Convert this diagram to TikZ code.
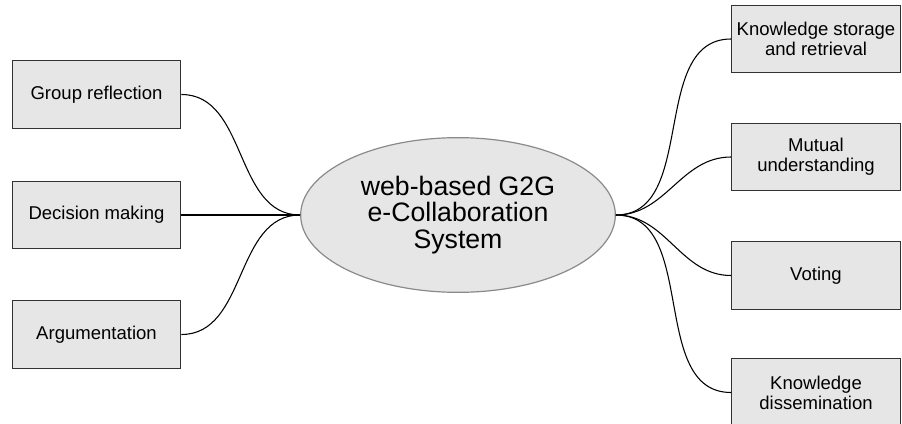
\documentclass[tikz,border=0pt]{standalone}
\usepackage{fontspec}
\setmainfont{Liberation Sans}
\usetikzlibrary{shapes.geometric}
\definecolor{boxfill}{HTML}{E6E6E6}
\definecolor{boxline}{HTML}{333333}
\definecolor{ellline}{HTML}{8A8A8A}
\tikzset{
  box/.style={draw=boxline, line width=0.9pt, fill=boxfill, rectangle,
    minimum width=126.5pt, minimum height=50.5pt, inner sep=0pt,
    align=center, font=\fontsize{13.9pt}{15pt}\selectfont},
  hub/.style={draw=ellline, line width=0.9pt, fill=boxfill, ellipse,
    minimum width=236pt, minimum height=116pt, inner sep=0pt,
    align=center, font=\fontsize{20pt}{20pt}\selectfont},
  link/.style={draw=black, line width=0.8pt, out=0, in=180}
}
\begin{document}
\begin{tikzpicture}[x=0.75pt,y=-0.75pt]
\useasboundingbox (0,0) rectangle (902,424);
\node[hub] (c) at (458,215) {web-based G2G\\e-Collaboration\\System};
\node[box] (gr) at (96.5,94.5) {Group reflection};
\node[box] (dm) at (96.5,215) {Decision making};
\node[box] (ar) at (96.5,334.5) {Argumentation};
\node[box] (ks) at (816,39) {Knowledge storage\\and retrieval};
\node[box] (mu) at (816,157) {Mutual\\understanding};
\node[box] (vo) at (816,275.5) {Voting};
\node[box] (kd) at (816,392.5) {Knowledge\\dissemination};
\draw[link] (gr.east) to (c.west);
\draw[link] (dm.east) to (c.west);
\draw[link] (ar.east) to (c.west);
\draw[link] (c.east) to (ks.west);
\draw[link] (c.east) to (mu.west);
\draw[link] (c.east) to (vo.west);
\draw[link] (c.east) to (kd.west);
\end{tikzpicture}
\end{document}
